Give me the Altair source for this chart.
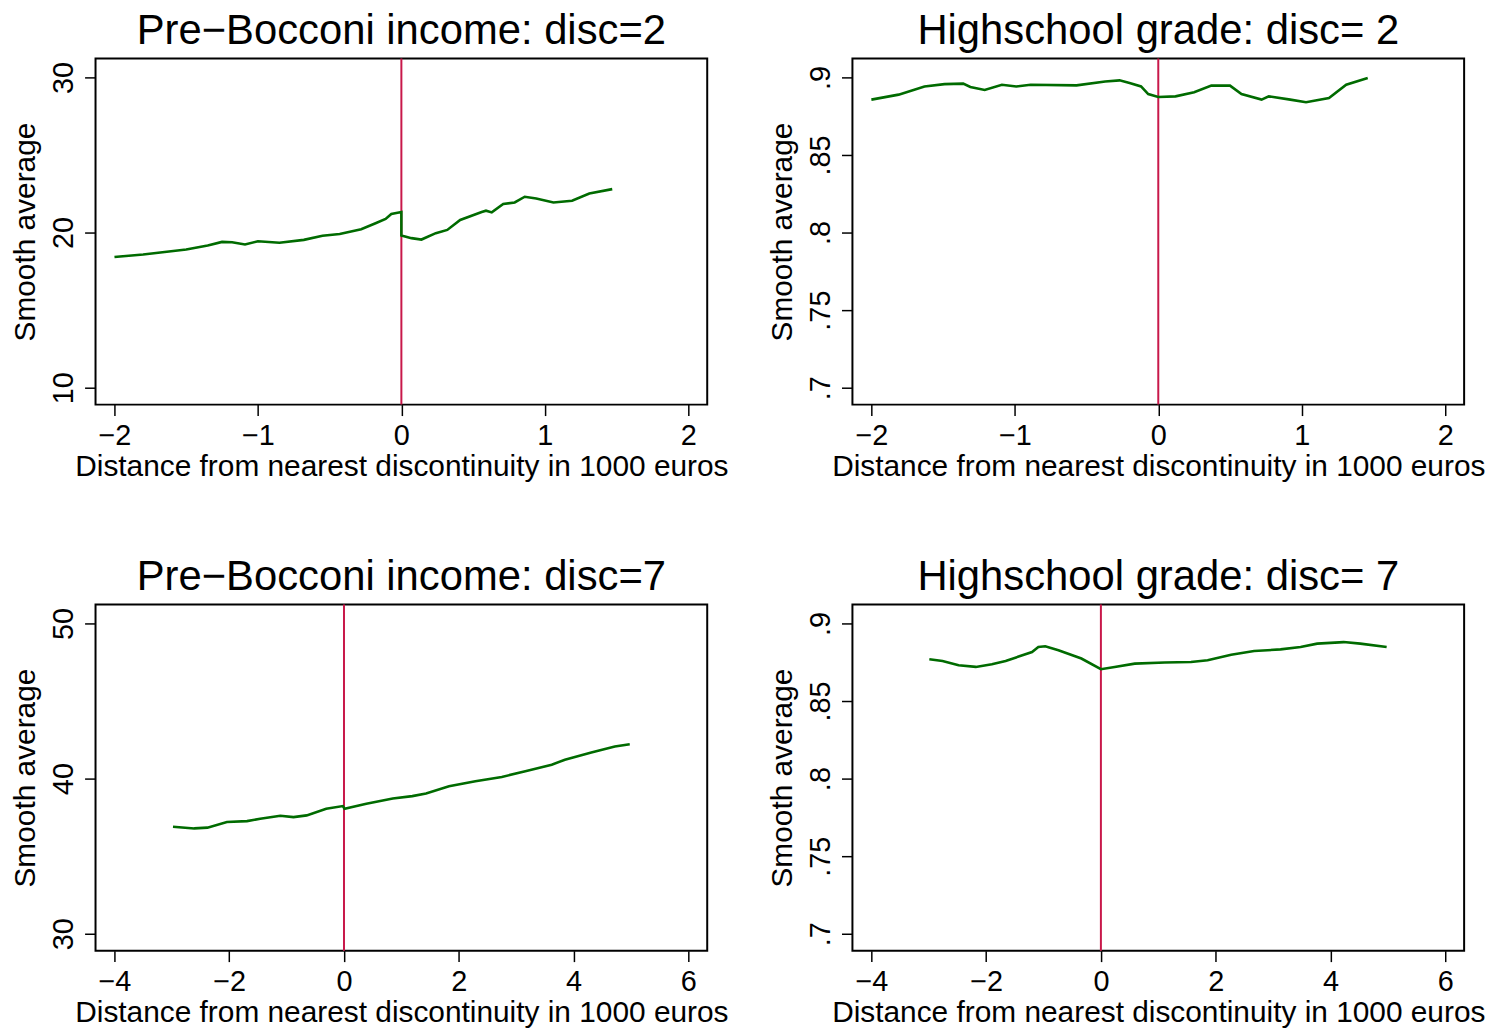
import altair as alt
import pandas as pd

# ---- data ----
p1_x = [-2.0, -1.80, -1.50, -1.35, -1.25, -1.18, -1.09, -1.00, -0.85, -0.68, -0.55, -0.43,
        -0.28, -0.18, -0.11, -0.07, 0.0, 0.0, 0.07, 0.14, 0.24, 0.32, 0.41, 0.56, 0.59, 0.63,
        0.71, 0.79, 0.86, 0.94, 1.06, 1.19, 1.31, 1.47]
p1_y = [18.42, 18.59, 18.91, 19.17, 19.40, 19.38, 19.23, 19.44, 19.34, 19.53, 19.79, 19.91,
        20.21, 20.60, 20.88, 21.20, 21.32, 19.81, 19.64, 19.55, 19.96, 20.17, 20.81, 21.32, 21.41, 21.30,
        21.84, 21.94, 22.31, 22.20, 21.94, 22.05, 22.52, 22.80]

p2_x = [-2.0, -1.81, -1.63, -1.49, -1.36, -1.31, -1.21, -1.09, -0.99, -0.89, -0.57, -0.37,
        -0.27, -0.20, -0.12, -0.07, 0.0, 0.12, 0.25, 0.37, 0.50, 0.58, 0.72, 0.77, 0.92, 1.03,
        1.19, 1.31, 1.46]
p2_y = [0.8857, 0.8889, 0.8942, 0.8957, 0.8960, 0.8938, 0.8919, 0.8953, 0.8942, 0.8953, 0.8949, 0.8974,
        0.8981, 0.8964, 0.8942, 0.8893, 0.8874, 0.8878, 0.8904, 0.8947, 0.8947, 0.8893, 0.8857, 0.8878, 0.8857, 0.8840,
        0.8867, 0.8953, 0.8996]

p3_x = [-2.98, -2.61, -2.38, -2.04, -1.69, -1.46, -1.11, -0.88, -0.65, -0.31, -0.02, 0.01,
        0.39, 0.85, 1.19, 1.43, 1.83, 2.29, 2.75, 3.16, 3.62, 3.85, 4.31, 4.72, 4.98]
p3_y = [36.90, 36.79, 36.84, 37.20, 37.26, 37.41, 37.61, 37.52, 37.63, 38.06, 38.23, 38.06,
        38.38, 38.72, 38.87, 39.04, 39.51, 39.83, 40.11, 40.47, 40.90, 41.22, 41.69, 42.07, 42.22]

p4_x = [-2.99, -2.76, -2.48, -2.18, -1.90, -1.66, -1.20, -1.09, -0.97, -0.74, -0.34, 0.0,
        0.24, 0.59, 1.11, 1.57, 1.86, 2.27, 2.67, 3.13, 3.48, 3.77, 4.23, 4.52, 4.98]
p4_y = [0.8769, 0.8758, 0.8731, 0.8720, 0.8737, 0.8758, 0.8816, 0.8848, 0.8853, 0.8827, 0.8774, 0.8705,
        0.8720, 0.8741, 0.8748, 0.8752, 0.8763, 0.8799, 0.8822, 0.8833, 0.8848, 0.8870, 0.8880, 0.8870, 0.8848]

titles = ["Pre\u2212Bocconi income: disc=2", "Highschool grade: disc= 2",
          "Pre\u2212Bocconi income: disc=7", "Highschool grade: disc= 7"]
x_title = "Distance from nearest discontinuity in 1000 euros"
y_title = "Smooth average"

x_ticks_a = [-2, -1, 0, 1, 2]
x_ticks_b = [-4, -2, 0, 2, 4, 6]
y_ticks_inc2 = [10, 20, 30]
y_ticks_inc7 = [30, 40, 50]
y_ticks_grade = [0.7, 0.75, 0.8, 0.85, 0.9]

GREEN = "#006b00"
RED = "#c8184a"
FONT = "Liberation Sans"
W = 615
H = 348


def panel(xs, ys, title, xdom, xticks, ydom, yticks, grade):
    df = pd.DataFrame({"x": xs, "y": ys, "i": list(range(len(xs)))})
    yaxis = dict(values=yticks, title=y_title, labelAngle=270, labelAlign="center",
                 labelBaseline="alphabetic", labelPadding=12,
                 titleX=-85, titleY=H / 2, titleAngle=270, titleAlign="center",
                 titleBaseline="top")
    if grade:
        yaxis["labelExpr"] = "replace(format(datum.value, '.2~f'), '0.', '.')"
    xaxis = dict(values=xticks, title=x_title, labelBaseline="alphabetic", labelPadding=29,
                 titleY=71, titleBaseline="alphabetic", labelFlush=False)
    xs_ = alt.Scale(domain=xdom, nice=False, zero=False)
    ys_ = alt.Scale(domain=ydom, nice=False, zero=False)
    rule = alt.Chart(pd.DataFrame({"x": [0]})).mark_rule(color=RED, strokeWidth=2).encode(
        x=alt.X("x:Q", scale=xs_, axis=alt.Axis(**xaxis))
    )
    line = alt.Chart(df).mark_line(color=GREEN, strokeWidth=2.6, clip=True).encode(
        x=alt.X("x:Q", scale=xs_, axis=alt.Axis(**xaxis)),
        y=alt.Y("y:Q", scale=ys_, axis=alt.Axis(**yaxis)),
        order="i:Q",
    )
    head = alt.Chart(pd.DataFrame({"t": [title]})).mark_text(
        fontSize=42, font=FONT, baseline="top", align="center", color="black"
    ).encode(text="t:N", x=alt.value(W / 2), y=alt.value(-48))
    return alt.layer(rule, line, head).properties(width=W, height=H)


p1 = panel(p1_x, p1_y, titles[0], [-2.132, 2.132], x_ticks_a, [8.91, 31.22], y_ticks_inc2, False)
p2 = panel(p2_x, p2_y, titles[1], [-2.132, 2.132], x_ticks_a, [0.6891, 0.9122], y_ticks_grade, True)
p3 = panel(p3_x, p3_y, titles[2], [-4.33, 6.33], x_ticks_b, [28.91, 51.22], y_ticks_inc7, False)
p4 = panel(p4_x, p4_y, titles[3], [-4.33, 6.33], x_ticks_b, [0.6891, 0.9122], y_ticks_grade, True)

chart = alt.concat(p1, p2, p3, p4, columns=2, spacing={"row": 201, "column": 146}, bounds="flush").properties(
    padding={"left": 2, "top": -2, "right": 0, "bottom": 0}, background="white"
).configure_view(
    stroke="black", strokeWidth=2
).configure_axis(
    domain=False, grid=False, offset=0, tickSize=11, tickWidth=1.5, tickColor="black",
    labelFont=FONT, labelFontSize=29, labelColor="black",
    titleFont=FONT, titleFontSize=30, titleFontWeight="normal", titleColor="black",
)

chart.save("out.html", embed_options={"renderer": "svg", "actions": False})
